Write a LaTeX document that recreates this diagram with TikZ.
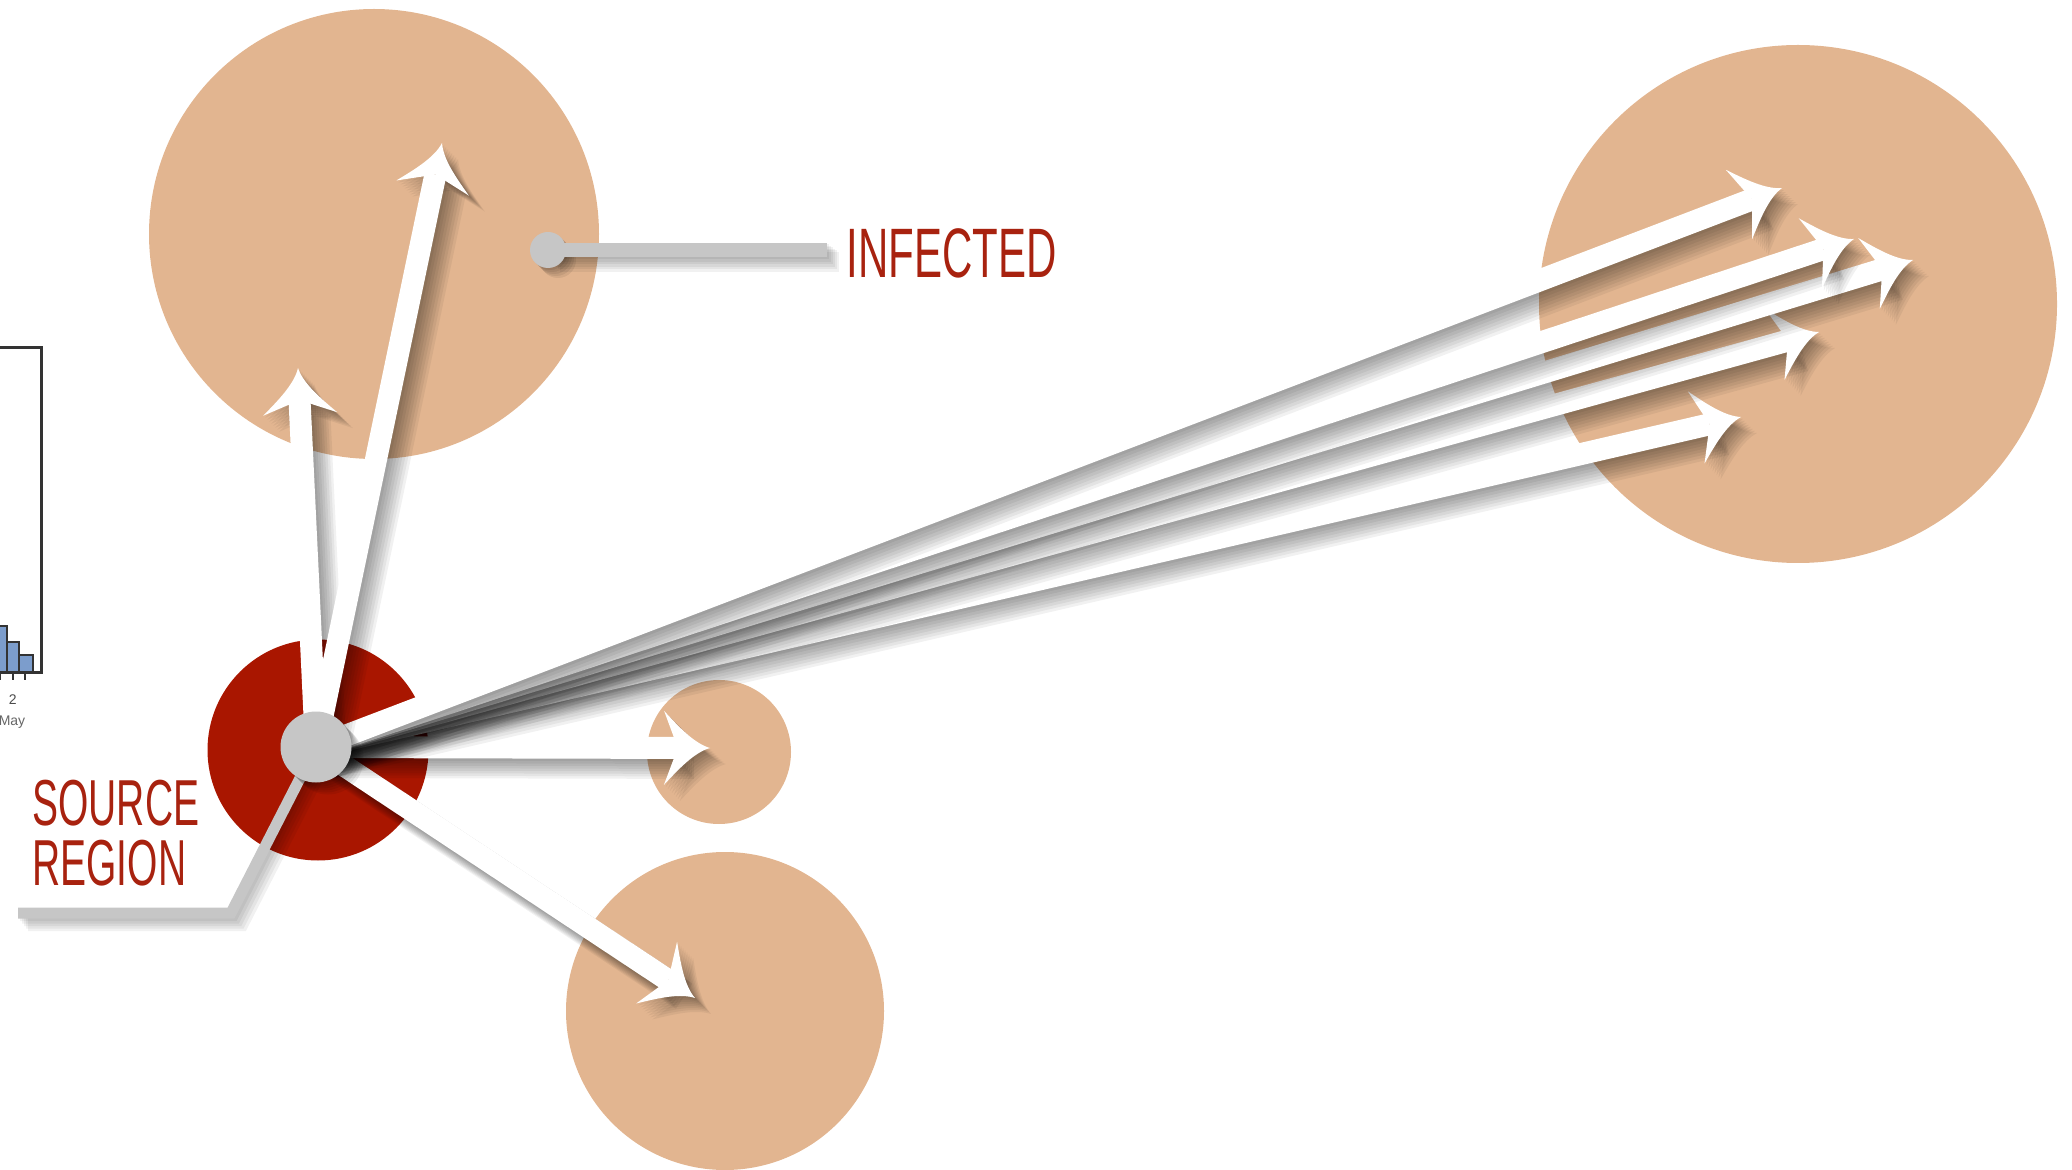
\documentclass[tikz,border=0pt]{standalone}
\usepackage{fontspec}
\setsansfont{Liberation Sans}
\newfontfamily\lblfont[FakeStretch=0.6]{Liberation Sans}
\usetikzlibrary{arrows.meta,positioning}
\definecolor{tanfill}{HTML}{E2B590}
\definecolor{srcred}{HTML}{A91600}
\definecolor{lblred}{HTML}{A8220F}
\definecolor{hubgray}{HTML}{C6C6C6}
\definecolor{barblue}{HTML}{7C9DCC}
\pgfdeclarearrow{
  name=Wing,
  parameters={\the\pgfarrowlength,\the\pgfarrowwidth},
  setup code={
    \pgfarrowssettipend{\pgfarrowlength}
    \pgfarrowssetlineend{.3\pgfarrowlength}
    \pgfarrowssetvisualbackend{0pt}
    \pgfarrowssetbackend{0pt}
    \pgfarrowshullpoint{\pgfarrowlength}{0pt}
    \pgfarrowsupperhullpoint{0pt}{.5\pgfarrowwidth}
    \pgfarrowssavethe\pgfarrowlength
    \pgfarrowssavethe\pgfarrowwidth
  },
  drawing code={
    \pgfpathmoveto{\pgfqpoint{\pgfarrowlength}{0pt}}
    \pgfpathcurveto{\pgfqpoint{.65\pgfarrowlength}{.06\pgfarrowwidth}}{\pgfqpoint{.3\pgfarrowlength}{.3\pgfarrowwidth}}{\pgfqpoint{0pt}{.5\pgfarrowwidth}}
    \pgfpathlineto{\pgfqpoint{.3\pgfarrowlength}{0pt}}
    \pgfpathlineto{\pgfqpoint{0pt}{-.5\pgfarrowwidth}}
    \pgfpathcurveto{\pgfqpoint{.3\pgfarrowlength}{-.3\pgfarrowwidth}}{\pgfqpoint{.65\pgfarrowlength}{-.06\pgfarrowwidth}}{\pgfqpoint{\pgfarrowlength}{0pt}}
    \pgfpathclose
    \pgfusepathqfill
  },
  defaults={length=22pt,width=36pt}
}

\begin{document}
\begin{tikzpicture}[x=0.5pt,y=-0.5pt,
  region/.style={circle,fill=tanfill,inner sep=0pt,minimum size=#1},
  flow/.style={white,line width=11pt,-{Wing[length=23pt,width=37pt]}},
  flowshade/.style 2 args={black,opacity=.055,line width=#2 pt,transform canvas={xshift=#1 pt,yshift=-#1 pt},-{Wing[length=23pt,width=37pt]}},
  leader/.style={hubgray,line width=#1},
  lbl/.style={lblred,inner sep=0pt,anchor=base west},
  ticklab/.style={font=\sffamily\fontsize{7}{8}\selectfont,inner sep=0pt}]
\useasboundingbox (0,0) rectangle (2072,1170);

\node[region=225pt] (infA) at (374,234) {};
\node[region=259pt] (infB) at (1798,304) {};
\node[region=72pt] (infC) at (719,752) {};
\node[region=159pt] (infD) at (725,1011) {};
\node[circle,fill=srcred,inner sep=0pt,minimum size=110.5pt] (srcdisc) at (318,750) {};

\draw[black!80,line width=1.5pt] (0,348) -| (41,672) -- (0,672);
\filldraw[fill=barblue,draw=black!80,line width=1.1pt] (-5,672) rectangle (7,626) (7,672) rectangle (19,642) (19,672) rectangle (33,655);
\foreach \x in {0,12.7,24.7} \draw[black!80,line width=1.1pt] (\x,672) -- (\x,680);
\node[ticklab,black!70] (day) at (12.7,700) {2};
\node[ticklab,black!60] (month) at (12,722) {May};

\coordinate (ic) at (548,250);
\coordinate (iend) at (827,250);
\foreach \d/\w in {1/7.5,2/8,3/8.5,4/9,5/9.5,6/10} \draw[flowshade={\d}{\w},-] (ic) -- (iend);
\foreach \d in {1,2,3,4,5} \fill[black,opacity=.07,transform canvas={xshift=\d pt,yshift=-\d pt}] (ic) circle (9pt);
\draw[leader=7pt] (ic) -- (iend);
\node[circle,fill=hubgray,inner sep=0pt,minimum size=18pt] (idot) at (ic) {};
\node[lbl,font=\lblfont\fontsize{35}{38}\selectfont] (inflab) at (846,278) {INFECTED};

\coordinate (hc) at (316,747);
\coordinate (tA1) at (298,368);
\coordinate (tA2) at (442,143);
\coordinate (tC) at (710,748);
\coordinate (tD) at (695,998);
\coordinate (tB1) at (1782,188);
\coordinate (tB2) at (1854,239);
\coordinate (tB3) at (1913,260);
\coordinate (tB4) at (1819,332);
\coordinate (tB5) at (1741,417);
\foreach \t in {tD,tC,tB5,tB4,tB3,tB2,tB1,tA1,tA2}{
  \foreach \d/\w in {1/11.5,2/12,3/12.5,4/13,5/13.5,6/14,7/14.5,8/15}
    \draw[flowshade={\d}{\w}] (hc) -- (\t);
  \draw[flow] (hc) -- (\t);
}

\coordinate (sc) at (231,913);
\coordinate (se) at (18,913);
\foreach \d/\w in {1/6,2/6.5,3/7,4/7.5,5/8} \draw[flowshade={\d}{\w},-] (hc) -- (sc) -- (se);
\draw[leader=5.5pt] (hc) -- (sc) -- (se);
\foreach \d in {1,2,3,4,5,6} \fill[black,opacity=.07,transform canvas={xshift=\d pt,yshift=-\d pt}] (hc) circle (17.75pt);
\node[circle,fill=hubgray,inner sep=0pt,minimum size=35.5pt] (hub) at (hc) {};

\node[lbl,font=\lblfont\fontsize{32.5}{34}\selectfont] (srclab) at (32,825) {SOURCE};
\node[lbl,font=\lblfont\fontsize{32.5}{34}\selectfont] (reglab) at (32,885) {REGION};
\end{tikzpicture}
\end{document}
